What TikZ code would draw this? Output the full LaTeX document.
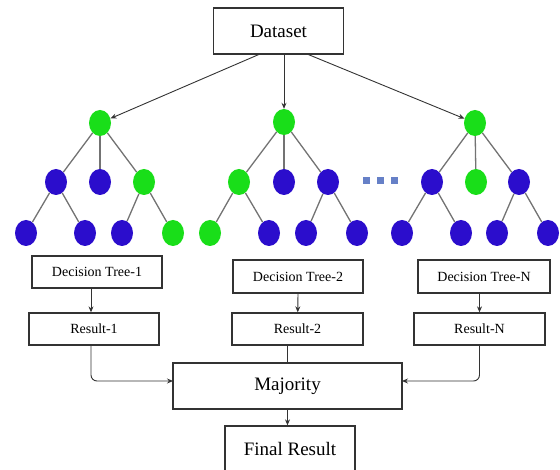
\documentclass[tikz,border=0pt]{standalone}
\usepackage{fontspec}
\setmainfont{Liberation Serif}
\usetikzlibrary{arrows.meta,shapes.geometric}

\newlength{\du}
\setlength{\du}{1pt}

\definecolor{boxlinecolor}{rgb}{0.200000, 0.200000, 0.200000}
\definecolor{edgecolor}{rgb}{0.450000, 0.450000, 0.450000}
\definecolor{leafgreen}{rgb}{0.100000, 0.870000, 0.100000}
\definecolor{leafblue}{rgb}{0.170000, 0.050000, 0.800000}
\definecolor{dotcolor}{rgb}{0.400000, 0.500000, 0.780000}

\tikzset{
  bigbox/.style={draw=boxlinecolor, line width=1.3\du, fill=white, minimum width=130\du, minimum height=46\du, inner sep=0pt, font=\fontsize{19}{22}\selectfont},
  smallbox/.style={draw=boxlinecolor, line width=1.3\du, fill=white, minimum width=130\du, minimum height=32\du, inner sep=0pt, font=\fontsize{14}{16}\selectfont},
  gnode/.style={ellipse, fill=leafgreen, minimum width=22\du, minimum height=26\du, inner sep=0pt},
  bnode/.style={ellipse, fill=leafblue, minimum width=22\du, minimum height=26\du, inner sep=0pt},
  branch/.style={draw=edgecolor, line width=1.3\du},
  flow/.style={draw=boxlinecolor, line width=0.9\du, -{Stealth[length=6pt,width=5pt]}},
}

\begin{document}
\begin{tikzpicture}
\pgftransformyscale{-1.000000}
\useasboundingbox (0\du,0\du) rectangle (560\du,470\du);
\clip (0\du,0\du) rectangle (560\du,470\du);

% dataset
\node[bigbox] (data) at (278.5\du,31\du) {Dataset};
\coordinate (dleft) at (260\du,54\du);
\coordinate (dright) at (307\du,54\du);

% tree 1
\node[gnode] (t1r) at (100\du,123\du) {};
\node[bnode] (t1a) at (56\du,182\du) {};
\node[bnode] (t1b) at (100\du,182\du) {};
\node[gnode] (t1c) at (144\du,182\du) {};
\node[bnode] (t1aa) at (26\du,233\du) {};
\node[bnode] (t1ab) at (85\du,233\du) {};
\node[bnode] (t1ca) at (122\du,233\du) {};
\node[gnode] (t1cb) at (173\du,233\du) {};
\draw[branch] (t1r) -- (t1a);
\draw[branch] (t1r) -- (t1b);
\draw[branch] (t1r) -- (t1c);
\draw[branch] (t1a) -- (t1aa);
\draw[branch] (t1a) -- (t1ab);
\draw[branch] (t1c) -- (t1ca);
\draw[branch] (t1c) -- (t1cb);

% tree 2
\node[gnode] (t2r) at (284\du,122\du) {};
\node[gnode] (t2a) at (239\du,182\du) {};
\node[bnode] (t2b) at (284\du,182\du) {};
\node[bnode] (t2c) at (328\du,182\du) {};
\node[gnode] (t2aa) at (210\du,233\du) {};
\node[bnode] (t2ab) at (269\du,233\du) {};
\node[bnode] (t2ca) at (306\du,233\du) {};
\node[bnode] (t2cb) at (357\du,233\du) {};
\draw[branch] (t2r) -- (t2a);
\draw[branch] (t2r) -- (t2b);
\draw[branch] (t2r) -- (t2c);
\draw[branch] (t2a) -- (t2aa);
\draw[branch] (t2a) -- (t2ab);
\draw[branch] (t2c) -- (t2ca);
\draw[branch] (t2c) -- (t2cb);

% dots between trees
\fill[dotcolor] (362.5\du,177.5\du) rectangle ++(7\du,7\du);
\fill[dotcolor] (376.5\du,177.5\du) rectangle ++(7\du,7\du);
\fill[dotcolor] (390.5\du,177.5\du) rectangle ++(7\du,7\du);

% tree N
\node[gnode] (tnr) at (475\du,123\du) {};
\node[bnode] (tna) at (432\du,182\du) {};
\node[gnode] (tnb) at (476\du,182\du) {};
\node[bnode] (tnc) at (519\du,182\du) {};
\node[bnode] (tnaa) at (402\du,233\du) {};
\node[bnode] (tnab) at (461\du,233\du) {};
\node[bnode] (tnca) at (497\du,233\du) {};
\node[bnode] (tncb) at (548\du,233\du) {};
\draw[branch] (tnr) -- (tna);
\draw[branch] (tnr) -- (tnb);
\draw[branch] (tnr) -- (tnc);
\draw[branch] (tna) -- (tnaa);
\draw[branch] (tna) -- (tnab);
\draw[branch] (tnc) -- (tnca);
\draw[branch] (tnc) -- (tncb);

% dataset to trees
\draw[flow] (dleft) -- (t1r);
\draw[flow] (data.south -| t2r) -- (t2r);
\draw[flow] (dright) -- (tnr);

% trees and results
\node[smallbox] (dt1) at (97\du,272\du) {Decision Tree-1};
\node[smallbox, minimum height=33\du] (dt2) at (298\du,276.5\du) {Decision Tree-2};
\node[smallbox, minimum width=132\du, minimum height=33\du] (dtn) at (484\du,276.5\du) {Decision Tree-N};
\node[smallbox] (res1) at (94\du,329\du) {Result-1};
\node[smallbox, minimum width=131\du] (res2) at (297.5\du,329\du) {Result-2};
\node[smallbox, minimum width=131\du] (resn) at (479.5\du,329\du) {Result-N};
\node[bigbox, minimum width=229\du] (maj) at (287.5\du,386\du) {Majority};
\node[bigbox] (fin) at (290\du,449\du) {Final Result};
\coordinate (majl) at (173\du,381\du);
\coordinate (majr) at (402\du,381\du);
\coordinate (r1out) at (91\du,345\du);

\draw[flow] (dt1.south -| r1out) -- (r1out |- res1.north);
\draw[flow] (dt2.south) -- (res2);
\draw[flow] (dtn.south -| resn) -- (resn);
\draw[flow, rounded corners=6\du] (r1out) |- (majl);
\draw[boxlinecolor, line width=0.9\du] (res2.south -| maj) -- (maj.north);
\draw[flow, rounded corners=6\du] (resn.south) |- (majr);
\draw[flow] (maj.south) -- (maj.south |- fin.north);
\end{tikzpicture}
\end{document}
